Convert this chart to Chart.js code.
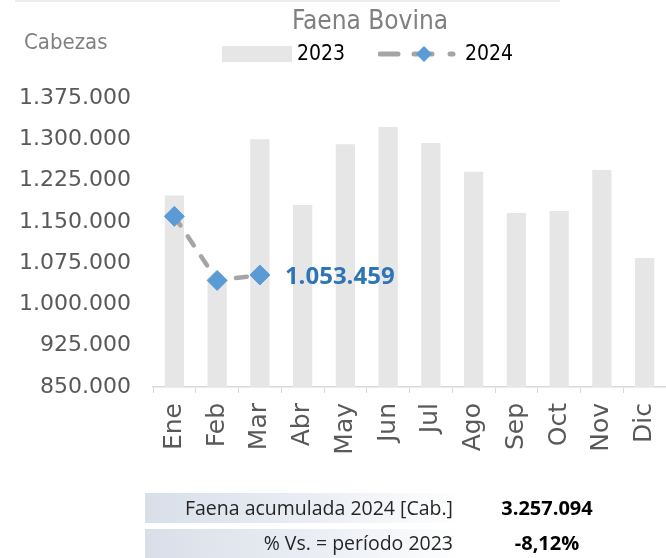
<!DOCTYPE html>
<html>
<head>
<meta charset="utf-8">
<script src="https://cdn.jsdelivr.net/npm/chart.js@4"></script>
<style>
  html, body { margin: 0; padding: 0; background: #fff; }
  #wrap { position: relative; width: 666px; height: 558px; overflow: hidden; font-family: "Open Sans", sans-serif; }
  #wrap canvas { position: absolute; left: 0; top: 0; }
  .topline { position: absolute; left: 15px; top: 0; width: 545px; height: 2px; background: #eeeeee; }
  .title { position: absolute; left: 0; width: 740px; top: 4px; text-align: center; font-family: "DejaVu Sans Condensed", "DejaVu Sans", sans-serif; font-stretch: condensed; font-size: 26px; line-height: 32px; color: #808080; }
  .unit { position: absolute; left: 24px; top: 28px; font-family: "DejaVu Sans Condensed", "DejaVu Sans", sans-serif; font-stretch: condensed; font-size: 22px; line-height: 28px; color: #808080; }
  .legend { position: absolute; top: 41px; font-family: "DejaVu Sans Condensed", "DejaVu Sans", sans-serif; font-stretch: condensed; font-size: 21px; color: #000; }
  .swatch { position: absolute; left: 222px; top: 46px; width: 70px; height: 16px; background: #e7e6e6; }
  .row { position: absolute; left: 145px; width: 320px; background: linear-gradient(90deg, #d9dfe9 0%, #e9edf3 50%, #ffffff 100%); }
  .lbl { position: absolute; right: 213px; font-size: 19.5px; color: #262626; white-space: nowrap; }
  .val { position: absolute; left: 497px; width: 100px; text-align: center; font-size: 20px; font-weight: bold; color: #000; }
</style>
</head>
<body>
<div id="wrap">
  <canvas id="faena" width="666" height="558"></canvas>
  <div class="topline"></div>
  <div class="title">Faena Bovina</div>
  <div class="unit">Cabezas</div>
  <div class="swatch"></div>
  <div class="legend" style="left:297px">2023</div>
  <svg style="position:absolute;left:378px;top:42px" width="86" height="24">
    <line x1="2" y1="12" x2="20" y2="12" stroke="#a5a5a5" stroke-width="5" stroke-linecap="round"/>
    <line x1="36" y1="12" x2="54" y2="12" stroke="#a5a5a5" stroke-width="5" stroke-linecap="round"/>
    <line x1="72" y1="12" x2="75" y2="12" stroke="#a5a5a5" stroke-width="5" stroke-linecap="round"/>
    <polygon points="46,4 54,12 46,20 38,12" fill="#5b9bd5"/>
  </svg>
  <div class="legend" style="left:465px">2024</div>

  <div class="row" style="top:493px;height:30px"></div>
  <div class="row" style="top:529px;height:29px"></div>
  <div class="lbl" style="top:494px">Faena acumulada 2024 [Cab.]</div>
  <div class="val" style="top:494px">3.257.094</div>
  <div class="lbl" style="top:529px">% Vs. = período 2023</div>
  <div class="val" style="top:529px">-8,12%</div>
</div>
<script>
const months = ['Ene', 'Feb', 'Mar', 'Abr', 'May', 'Jun', 'Jul', 'Ago', 'Sep', 'Oct', 'Nov', 'Dic'];
const faena2023 = [1198000, 1047000, 1300000, 1180600, 1290900, 1322300, 1293300, 1241100, 1166100, 1169700, 1244200, 1084300];
const faena2024 = [1160000, 1043635, 1053459, null, null, null, null, null, null, null, null, null];
const yMin = 850000;
const yMax = 1375000;
const yStep = 75000;

function fmt(n) {
    return String(Math.round(n)).replace(/\B(?=(\d{3})+(?!\d))/g, '.');
}

// etiqueta con el ultimo valor de 2024
const lastLabel = {
    id: 'lastLabel',
    afterDatasetsDraw(chart) {
        const meta = chart.getDatasetMeta(0);
        let idx = -1;
        faena2024.forEach((v, i) => { if (v !== null) idx = i; });
        if (idx < 0) return;
        const pt = meta.data[idx];
        const c = chart.ctx;
        c.save();
        c.font = 'bold 24px "Open Sans", sans-serif';
        c.fillStyle = '#2e75b6';
        c.textAlign = 'left';
        c.textBaseline = 'middle';
        c.fillText(fmt(faena2024[idx]), pt.x + 25, pt.y + 2);
        c.restore();
    }
};

// meses verticales (los dibujo aparte para que no achiquen el area)
const monthLabels = {
    id: 'monthLabels',
    afterDraw(chart) {
        const xs = chart.scales.x;
        const c = chart.ctx;
        c.save();
        c.font = '25px "DejaVu Sans", sans-serif';
        c.fillStyle = '#595959';
        c.textAlign = 'right';
        c.textBaseline = 'middle';
        months.forEach((m, i) => {
            c.save();
            c.translate(xs.getPixelForTick(i), xs.top + 16);
            c.rotate(-Math.PI / 2);
            c.fillText(m, 0, 0);
            c.restore();
        });
        c.restore();
    }
};

new Chart(document.getElementById('faena'), {
    data: {
        labels: months,
        datasets: [{
            type: 'line',
            label: '2024',
            data: faena2024,
            order: 0,
            borderColor: '#a5a5a5',
            borderWidth: 4.5,
            borderDash: [11, 13],
            borderCapStyle: 'round',
            pointStyle: 'rectRot',
            pointRadius: 10,
            pointBackgroundColor: '#5b9bd5',
            pointBorderColor: '#5b9bd5',
            pointBorderWidth: 1,
            tension: 0,
            spanGaps: false
        }, {
            type: 'bar',
            label: '2023',
            data: faena2023,
            order: 1,
            backgroundColor: '#e7e6e6',
            barPercentage: 0.45,
            categoryPercentage: 1
        }]
    },
    options: {
        responsive: false,
        animation: false,
        layout: { autoPadding: false, padding: { top: 98, right: 0, bottom: 0, left: 0 } },
        scales: {
            y: {
                min: yMin,
                max: yMax,
                afterFit: s => { s.width = 153; },
                grid: { display: false, drawTicks: false },
                border: { display: false },
                ticks: {
                    stepSize: yStep,
                    padding: 22,
                    color: '#595959',
                    font: { family: '"DejaVu Sans", sans-serif', size: 22 },
                    callback: v => fmt(v)
                }
            },
            x: {
                afterFit: s => { s.height = 171; },
                grid: { drawOnChartArea: false, drawTicks: true, tickLength: 6, color: '#d9d9d9', offset: true },
                border: { display: true, color: '#d9d9d9', width: 1.5 },
                ticks: { display: false }
            }
        },
        plugins: {
            legend: { display: false },
            tooltip: { enabled: false }
        }
    },
    plugins: [lastLabel, monthLabels]
});
</script>
</body>
</html>
